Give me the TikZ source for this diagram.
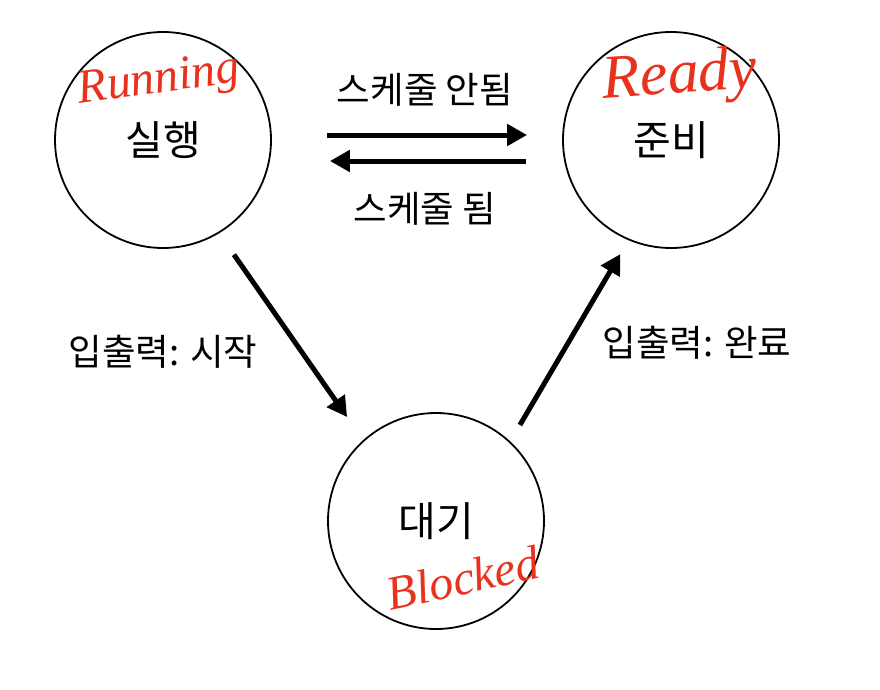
\documentclass[tikz,border=0pt]{standalone}
\usepackage{fontspec}
\setmainfont{Noto Sans CJK KR}
\newfontfamily\handfont{Liberation Serif}
\usepackage{xcolor}
\usetikzlibrary{arrows.meta,positioning}
\definecolor{inkred}{RGB}{232,50,30}

\begin{document}
\begin{tikzpicture}[x=1pt,y=-1pt,>={Triangle[length=20pt,width=21pt]},
  state/.style={circle,draw,line width=1.8pt,minimum size=216pt,inner sep=0pt,
                font=\fontsize{41}{43}\selectfont},
  arr/.style={->,line width=5pt},
  lbl/.style={font=\fontsize{36.5}{38}\selectfont},
  hand/.style={inkred,inner sep=0pt,font=\handfont\itshape\fontsize{48}{50}\selectfont}]
  \useasboundingbox (0,0) rectangle (880,690);

  \node[state] (run)   at (163,140) {실행};
  \node[state] (ready) at (671,140) {준비};
  \node[state] (wait)  at (436,521) {대기};

  % handwritten english names
  \node[hand,rotate=8]  (runtag)   at (159,82)  {Running};
  \node[hand,rotate=4,font=\handfont\itshape\fontsize{62}{64}\selectfont]
                        (readytag) at (680,78)  {Ready};
  \node[hand,rotate=12] (waittag)  at (463,578) {Blocked};

  \draw[arr,shorten <=55pt,shorten >=35pt]
    ([yshift=5pt]run.east) -- ([yshift=5pt]ready.west);
  \draw[arr,shorten <=36pt,shorten >=58pt]
    ([yshift=-21pt]ready.west) -- ([yshift=-21pt]run.east);
  \draw[arr,shorten <=26pt,shorten >=28pt] (run.-59.5) -- (wait.132.4);
  \draw[arr,shorten <=19pt,shorten >=16pt] (wait.47.8) -- (ready.-113.3);

  \node[lbl] (desched) at (425,90)  {스케줄 안됨};
  \node[lbl] (sched)   at (425,209) {스케줄 됨};
  \node[lbl] (iostart) at (163,352) {입출력: 시작};
  \node[lbl] (iodone)  at (697,343) {입출력: 완료};
\end{tikzpicture}
\end{document}
